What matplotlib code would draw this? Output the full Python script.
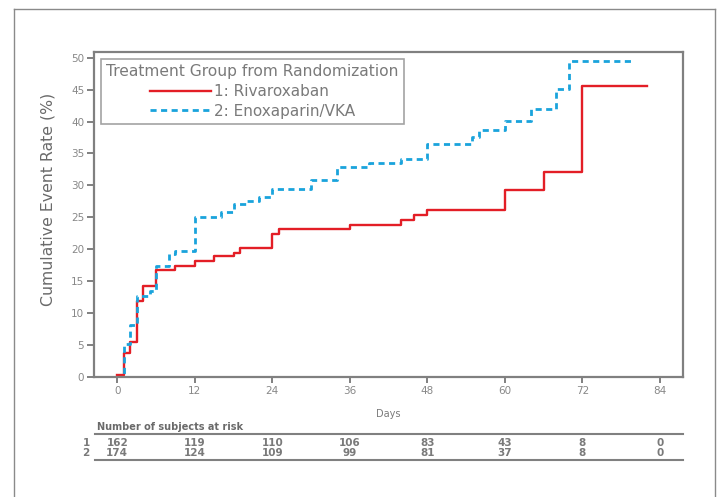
import matplotlib
matplotlib.use('Agg')
from matplotlib import pyplot as plt
from matplotlib.lines import Line2D
from matplotlib.transforms import blended_transform_factory

# step data (day where the step happens, rate after it)
riva_days = [0, 1, 2, 3, 4, 6, 9, 12, 15, 18, 19, 24, 25, 36, 44, 46, 48, 60, 66, 72, 82]
riva_rate = [0.3, 3.7, 5.5, 11.8, 14.2, 16.8, 17.4, 18.1, 18.9, 19.4, 20.2, 22.4, 23.1,
             23.8, 24.5, 25.3, 26.1, 29.2, 32.1, 45.6, 45.6]

enox_days = [0, 1, 2, 3, 5, 6, 8, 9, 12, 16, 18, 20, 22, 24, 30, 34, 39, 44, 48, 55, 56,
             60, 64, 68, 70, 80]
enox_rate = [0.0, 5.2, 8.1, 12.6, 13.4, 17.4, 19.2, 19.7, 25.1, 25.8, 27.0, 27.6, 28.2,
             29.5, 30.8, 32.9, 33.5, 34.2, 36.5, 37.5, 38.6, 40.1, 41.9, 45.1, 49.5, 49.5]

risk_days = [0, 12, 24, 36, 48, 60, 72, 84]
risk_riva = [162, 119, 110, 106, 83, 43, 8, 0]
risk_enox = [174, 124, 109, 99, 81, 37, 8, 0]

grey = '#808080'
txt = '#7a7a7a'

plt.rcParams['font.family'] = 'DejaVu Sans'

fig = plt.figure(figsize=(7.21, 4.97), dpi=100)
W, H = 721.0, 497.0
ax = fig.add_axes([94 / W, 1 - 376.7 / H, (683 - 94) / W, (376.7 - 52) / H])

ax.step(riva_days, riva_rate, where='post', color='#e31e26', linewidth=1.7,
        label='1: Rivaroxaban')
ax.step(enox_days, enox_rate, where='post', color='#1aa3dc', linewidth=2.0,
        linestyle=(0, (2.2, 1.6)), label='2: Enoxaparin/VKA')

ax.set_xlim(-3.6, 87.6)
ax.set_ylim(0, 50.9)
ax.set_xticks(range(0, 85, 12))
ax.set_yticks(range(0, 51, 5))
for s in ax.spines.values():
    s.set_color(grey)
    s.set_linewidth(1.6)
ax.tick_params(axis='y', length=5, width=1.4, color=grey, labelcolor='#888888', labelsize=7.5, pad=2)
ax.tick_params(axis='x', length=4, width=1.4, color=grey, labelcolor='#888888', labelsize=7.5, pad=3)

ax.set_ylabel('Cumulative Event Rate (%)', fontsize=11.3, color='#6a6a6a')
ax.yaxis.set_label_coords(-0.065, 0.545)
ax.set_xlabel('Days', fontsize=7, color=txt, labelpad=9)

leg = ax.legend(title='Treatment Group from Randomization', loc='upper left',
                bbox_to_anchor=(0.0114, 0.978), borderaxespad=0, fontsize=11,
                title_fontsize=11.2, handlelength=4.0, handletextpad=0.2, borderpad=0.35,
                labelspacing=0.3, fancybox=False, frameon=True)
leg.get_frame().set_edgecolor('#8c8c8c')
leg.get_frame().set_linewidth(1.2)
leg.get_title().set_color(txt)
for t in leg.get_texts():
    t.set_color(txt)

# number at risk table
fig.text(97 / W, 1 - 427 / H, 'Number of subjects at risk', fontsize=7, fontweight='bold',
         color='#6a6a6a', va='center', ha='left')
for yy in (434, 460):
    fig.add_artist(Line2D([95 / W, 683 / W], [1 - yy / H, 1 - yy / H], color=grey, linewidth=1.5))

tr = blended_transform_factory(ax.transData, fig.transFigure)
for row, (lab, vals) in enumerate([('1', risk_riva), ('2', risk_enox)]):
    y = 1 - (443 + row * 10.5) / H
    fig.text(86 / W, y, lab, fontsize=7.5, fontweight='bold', color=txt, va='center', ha='center')
    for d, v in zip(risk_days, vals):
        ax.text(d, y, str(v), transform=tr, fontsize=7.5, fontweight='bold', color=txt,
                va='center', ha='center', clip_on=False)

# outer frame of the figure
for xs, ys in [([14, 14], [9, 497]), ([14, 715], [9, 9]), ([715, 715], [9, 497])]:
    fig.add_artist(Line2D([x / W for x in xs], [1 - y / H for y in ys], color='#8a8a8a', linewidth=1.0))

plt.savefig('out.png', dpi=100)
